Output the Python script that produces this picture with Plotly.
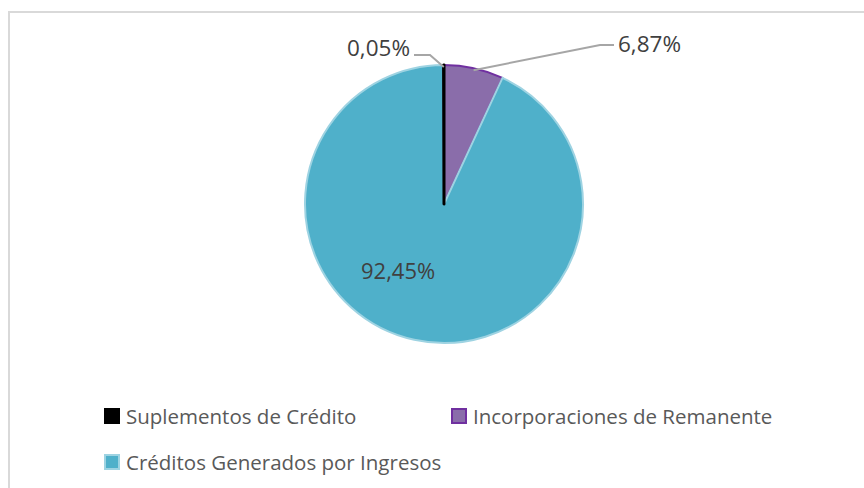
import math
import plotly.graph_objects as go

# Composition of credit modifications (share of total, %)
categories = ["Suplementos de Crédito", "Incorporaciones de Remanente", "Créditos Generados por Ingresos"]
shares = [0.05, 6.87, 92.45]

fills = ["#000000", "#8A6DAA", "#4FB0CA"]
edges = ["#000000", "#7030A0", "#9ED3E2"]

# slice drawing order, clockwise from 12 o'clock (the tiny slice last so it sits on top)
order = [1, 2, 0]

W, H = 864, 488
CX, CY, R = 444, 204, 139  # pie centre and radius in pixels

FONT = "'Open Sans', Lato, sans-serif"
LABEL_COLOR = "#404040"
LEGEND_COLOR = "#595959"


def px(x):
    return x / W


def py(y):
    return 1 - y / H


def fmt(v):
    return f"{v:.2f}".replace(".", ",") + "%"


total = sum(shares)

fig = go.Figure(go.Pie(
    labels=[categories[i] for i in order],
    values=[shares[i] for i in order],
    sort=False,
    direction="clockwise",
    rotation=0,
    marker=dict(colors=[fills[i] for i in order],
                line=dict(color=[edges[i] for i in order], width=[2, 2, 3])),
    textinfo="none",
    hoverinfo="label+value",
    showlegend=False,
    domain=dict(x=[px(CX - R), px(CX + R)], y=[py(CY + R), py(CY - R)]),
))

# mid-angle of every slice (degrees clockwise from 12 o'clock)
mids = [0.0] * len(shares)
acc = 0.0
for i in order:
    span = 360 * shares[i] / total
    mids[i] = acc + span / 2
    acc += span


def edge_point(angle, r=R):
    a = math.radians(angle)
    return CX + r * math.sin(a), CY - r * math.cos(a)


shapes = []
annotations = []

# outside labels with leader lines for the two small slices
outside = [
    # (slice index, elbow point, end of horizontal run, text anchor x, text y, xanchor)
    (0, (430, 55), (414, 55), 412, 47, "right"),
    (1, (600, 45), (614, 45), 616, 43, "left"),
]
for i, elbow, end, tx, ty, anchor in outside:
    ex, ey = edge_point(mids[i], R - 2)
    path = f"M {px(ex)},{py(ey)} L {px(elbow[0])},{py(elbow[1])} L {px(end[0])},{py(end[1])}"
    shapes.append(dict(type="path", path=path, xref="paper", yref="paper",
                       line=dict(color="#A6A6A6", width=2)))
    annotations.append(dict(text=fmt(shares[i]), x=px(tx), y=py(ty), xref="paper", yref="paper",
                            xanchor=anchor, yanchor="middle", showarrow=False,
                            font=dict(family=FONT, size=22.5, color=LABEL_COLOR)))

# label inside the large slice
annotations.append(dict(text=fmt(shares[2]), x=px(398), y=py(270), xref="paper", yref="paper",
                        xanchor="center", yanchor="middle", showarrow=False,
                        font=dict(family=FONT, size=22, color=LABEL_COLOR)))

# legend: two columns, two rows
legend_pos = [(105, 416), (452, 416), (105, 462)]
SQ = 14
for (lx, ly), name, fc, ec in zip(legend_pos, categories, fills, edges):
    shapes.append(dict(type="rect", xref="paper", yref="paper",
                       x0=px(lx), x1=px(lx + SQ), y0=py(ly + SQ / 2), y1=py(ly - SQ / 2),
                       fillcolor=fc, line=dict(color=ec, width=2)))
    annotations.append(dict(text=name, x=px(lx + SQ + 5), y=py(ly), xref="paper", yref="paper",
                            xanchor="left", yanchor="middle", showarrow=False,
                            font=dict(family=FONT, size=20.5, color=LEGEND_COLOR)))

# chart-area frame
shapes.append(dict(type="rect", xref="paper", yref="paper",
                   x0=px(9), x1=px(W + 10), y0=py(H + 10), y1=py(12),
                   line=dict(color="#D9D9D9", width=2), fillcolor="rgba(0,0,0,0)"))

fig.update_layout(
    width=W, height=H,
    margin=dict(l=0, r=0, t=0, b=0),
    paper_bgcolor="white", plot_bgcolor="white",
    shapes=shapes, annotations=annotations,
)

fig.write_html("out.html")
